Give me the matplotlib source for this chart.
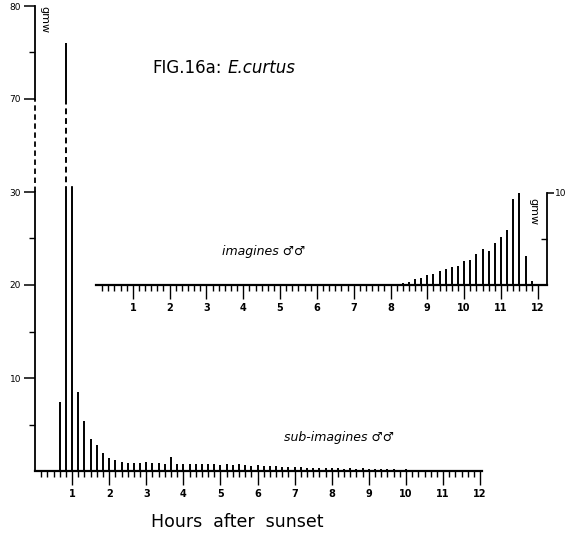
import numpy as np
import matplotlib
matplotlib.use("Agg")
import matplotlib.pyplot as plt

W, H = 567, 543

# ---- data ----
hours = [k / 6 for k in range(1, 73)]          # 10-minute steps, 0.167 .. 12 h
sub_imagines = [0, 0, 0, 7.4, 76, 34, 8.5, 5.4, 3.4, 2.75, 1.95, 1.4,
                1.2, 1.0, 0.85, 0.85, 0.85, 1.0, 0.9, 0.9, 0.75, 1.5, 0.8, 0.72,
                0.8, 0.72, 0.72, 0.72, 0.72, 0.65, 0.72, 0.65, 0.72, 0.65, 0.55, 0.65,
                0.55, 0.55, 0.55, 0.47, 0.47, 0.47, 0.47, 0.3, 0.35, 0.3, 0.35, 0.3,
                0.3, 0.25, 0.3, 0.25, 0.3, 0.25, 0.2, 0.25, 0.2, 0.2, 0.15, 0.2,
                0.15, 0.1, 0.15, 0.1, 0.1, 0.1, 0.1, 0.1, 0.05, 0.1, 0.05, 0]
imagines = [0, 0, 0.1, 0, 0, 0, 0.1, 0, 0, 0, 0.1, 0,
            0, 0, 0, 0, 0, 0, 0, 0, 0, 0, 0.1, 0,
            0, 0, 0, 0, 0.1, 0, 0, 0, 0, 0, 0, 0.1,
            0, 0.1, 0.15, 0.15, 0.1, 0.1, 0.15, 0.15, 0.1, 0.15, 0.15, 0.1,
            0.15, 0.2, 0.36, 0.7, 0.8, 1.05, 1.25, 1.5, 1.75, 2.0, 2.05, 2.6,
            2.75, 3.4, 3.9, 3.75, 4.6, 5.2, 6.0, 9.3, 10.1, 3.1, 0.45, 0]
hour_labels = [str(h) for h in range(1, 13)]
main_ytick_vals = [10, 20, 30, 70, 80]
main_yminor_vals = [5, 15, 25, 75]
inset_ytick_vals = [10]
inset_yminor_vals = [5]

# broken axis: 30..70 squeezed into 10 units
brk_in = [0, 30, 70, 80]
brk_out = [0, 30, 40, 50]
def squeeze(v):
    return np.interp(v, brk_in, brk_out)

def px(x0, y0, w, h):
    return [x0 / W, 1 - (y0 + h) / H, w / W, h / H]

fig = plt.figure(figsize=(W / 100, H / 100), dpi=100)

# ---- main axes ----
ax = fig.add_axes(px(35, 6, 447, 465))
ax.set_xlim(0, 12.05)
ax.set_ylim(0, 50)
for s in ["top", "right", "left"]:
    ax.spines[s].set_visible(False)
ax.spines["bottom"].set_linewidth(1.6)

lw = 1.4
for x, v in zip(hours, sub_imagines):
    if v <= 0:
        continue
    t = squeeze(v)
    ax.vlines(x, 0, min(t, 30), color="black", lw=lw)
    if t > 30:
        ax.vlines(x, 30, min(t, 40), color="black", lw=lw, linestyles=(0, (3, 2)))
    if t > 40:
        ax.vlines(x, 40, t, color="black", lw=lw)

# left axis line with the break
ax.plot([0, 0], [0, 30], color="black", lw=1.3, clip_on=False)
ax.plot([0, 0], [30, 40], color="black", lw=1.3, ls=(0, (3, 2)), clip_on=False)
ax.plot([0, 0], [40, 50], color="black", lw=1.3, clip_on=False)

ax.set_yticks(squeeze(main_ytick_vals))
ax.set_yticklabels([str(v) for v in main_ytick_vals], fontsize=6.5)
ax.set_yticks(squeeze(main_yminor_vals), minor=True)
ax.tick_params(axis="y", which="major", length=8, width=1.1, direction="out", pad=2)
ax.tick_params(axis="y", which="minor", length=4, width=1.0, direction="out")

ax.set_xticks(range(1, 13))
ax.set_xticklabels(hour_labels, fontsize=7, fontweight="bold")
ax.set_xticks(hours, minor=True)
ax.tick_params(axis="x", which="major", length=10, width=1.0, direction="out", pad=3)
ax.tick_params(axis="x", which="minor", length=4, width=1.0, direction="out")

# ---- inset axes (imagines) ----
ai = fig.add_axes(px(96, 193, 451, 92))
ai.set_xlim(0, 12.25)
ai.set_ylim(0, 10)
ai.patch.set_alpha(0)
for s in ["top", "left"]:
    ai.spines[s].set_visible(False)
ai.spines["bottom"].set_linewidth(1.6)
ai.spines["right"].set_linewidth(1.3)
ai.vlines(hours, 0, imagines, color="black", lw=lw)

ai.yaxis.tick_right()
ai.set_yticks(inset_ytick_vals)
ai.set_yticklabels([str(v) for v in inset_ytick_vals], fontsize=6.5)
ai.set_yticks(inset_yminor_vals, minor=True)
ai.tick_params(axis="y", which="major", length=5, width=1.1, direction="out", pad=1)
ai.tick_params(axis="y", which="minor", length=4, width=1.0, direction="in")

ai.set_xticks(range(1, 13))
ai.set_xticklabels(hour_labels, fontsize=7, fontweight="bold")
ai.set_xticks(hours, minor=True)
ai.tick_params(axis="x", which="major", length=10, width=1.0, direction="out", pad=3)
ai.tick_params(axis="x", which="minor", length=4, width=1.0, direction="out")

# ---- texts ----
def ft(x, y, s, **kw):
    fig.text(x / W, 1 - y / H, s, **kw)

ft(152, 68, "FIG.16a:", fontsize=12, va="center", ha="left")
ft(228, 68, "E.curtus", fontsize=12, style="italic", va="center", ha="left")
ft(44, 20, "gmw", fontsize=8, rotation=-90, va="center", ha="center")
ft(533, 212, "gmw", fontsize=8, rotation=-90, va="center", ha="center")
ft(222, 252, "imagines \u2642\u2642", fontsize=9, style="italic", va="center", ha="left")
ft(284, 437, "sub-imagines \u2642\u2642", fontsize=9, style="italic", va="center", ha="left")
ft(237, 522, "Hours  after  sunset", fontsize=12.5, va="center", ha="center")

fig.savefig("out.png", dpi=100)
